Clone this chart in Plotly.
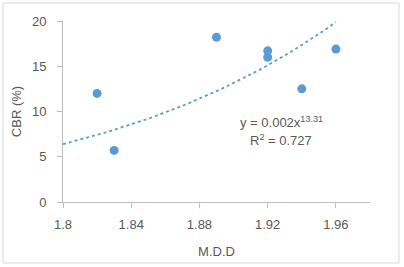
import numpy as np
import plotly.graph_objects as go

mdd = [1.82, 1.83, 1.89, 1.92, 1.92, 1.94, 1.96]
cbr = [12.0, 5.7, 18.2, 16.7, 16.0, 12.5, 16.9]
x_ticks = [1.8, 1.84, 1.88, 1.92, 1.96]
x_tick_labels = ["1.8", "1.84", "1.88", "1.92", "1.96"]
y_ticks = [0, 5, 10, 15, 20]

# power trendline y = a x^b (as drawn in the reference)
trend_a = 0.00256
trend_b = 13.31
trend_x = [1.8, 1.96]

xt = np.linspace(trend_x[0], trend_x[1], 60)
yt = trend_a * xt ** trend_b

W, H = 404, 267
L, R, T, B = 63, 34, 21, 65
pw, ph = W - L - R, H - T - B

blue = "#5B9BD5"
grey_txt = "#595959"
font = "Liberation Sans"

fig = go.Figure()
fig.add_trace(go.Scatter(x=xt, y=yt, mode="lines",
                         line=dict(color=blue, width=1.8, dash="dot"),
                         hoverinfo="skip", showlegend=False))
fig.add_trace(go.Scatter(x=mdd, y=cbr, mode="markers",
                         marker=dict(color=blue, size=9),
                         showlegend=False))

fig.update_layout(
    width=W, height=H,
    margin=dict(l=L, r=R, t=T, b=B, autoexpand=False),
    paper_bgcolor="white", plot_bgcolor="white",
    font=dict(family=font, size=13, color=grey_txt),
    xaxis=dict(range=[1.8, 1.98], tickvals=x_ticks, ticktext=x_tick_labels,
               showgrid=False, zeroline=False, showline=True, automargin=False,
               linecolor="#BFBFBF", linewidth=1, ticks="outside",
               ticklen=5, tickcolor="#BFBFBF", ticklabelstandoff=5,
               tickfont=dict(size=13, color=grey_txt),
               title=dict(text="M.D.D", font=dict(size=13, color=grey_txt), standoff=16)),
    yaxis=dict(range=[0, 20], tickvals=y_ticks,
               showgrid=False, zeroline=False, showline=True, automargin=False,
               linecolor="#BFBFBF", linewidth=1, ticks="outside",
               ticklen=5, tickcolor="#BFBFBF", ticklabelstandoff=8,
               tickfont=dict(size=13, color=grey_txt),
               title=dict(text="CBR (%)", font=dict(size=13, color=grey_txt), standoff=7)),
    shapes=[dict(type="rect", xref="paper", yref="paper",
                 x0=(3 - L) / pw, x1=(399 - L) / pw,
                 y0=(H - B - 263) / ph, y1=(H - B - 3) / ph,
                 line=dict(color="#D9D9D9", width=1), fillcolor="rgba(0,0,0,0)",
                 layer="below")],
    annotations=[
        dict(x=1.928, y=8.8, xref="x", yref="y",
             text="y = 0.002x<sup>13.31</sup>", showarrow=False,
             font=dict(size=13, color=grey_txt)),
        dict(x=1.928, y=6.8, xref="x", yref="y",
             text="R<sup>2</sup> = 0.727", showarrow=False,
             font=dict(size=13, color=grey_txt)),
    ],
)

fig.write_html("out.html", config={"displayModeBar": False},
               post_script="document.body.style.margin='0';")
